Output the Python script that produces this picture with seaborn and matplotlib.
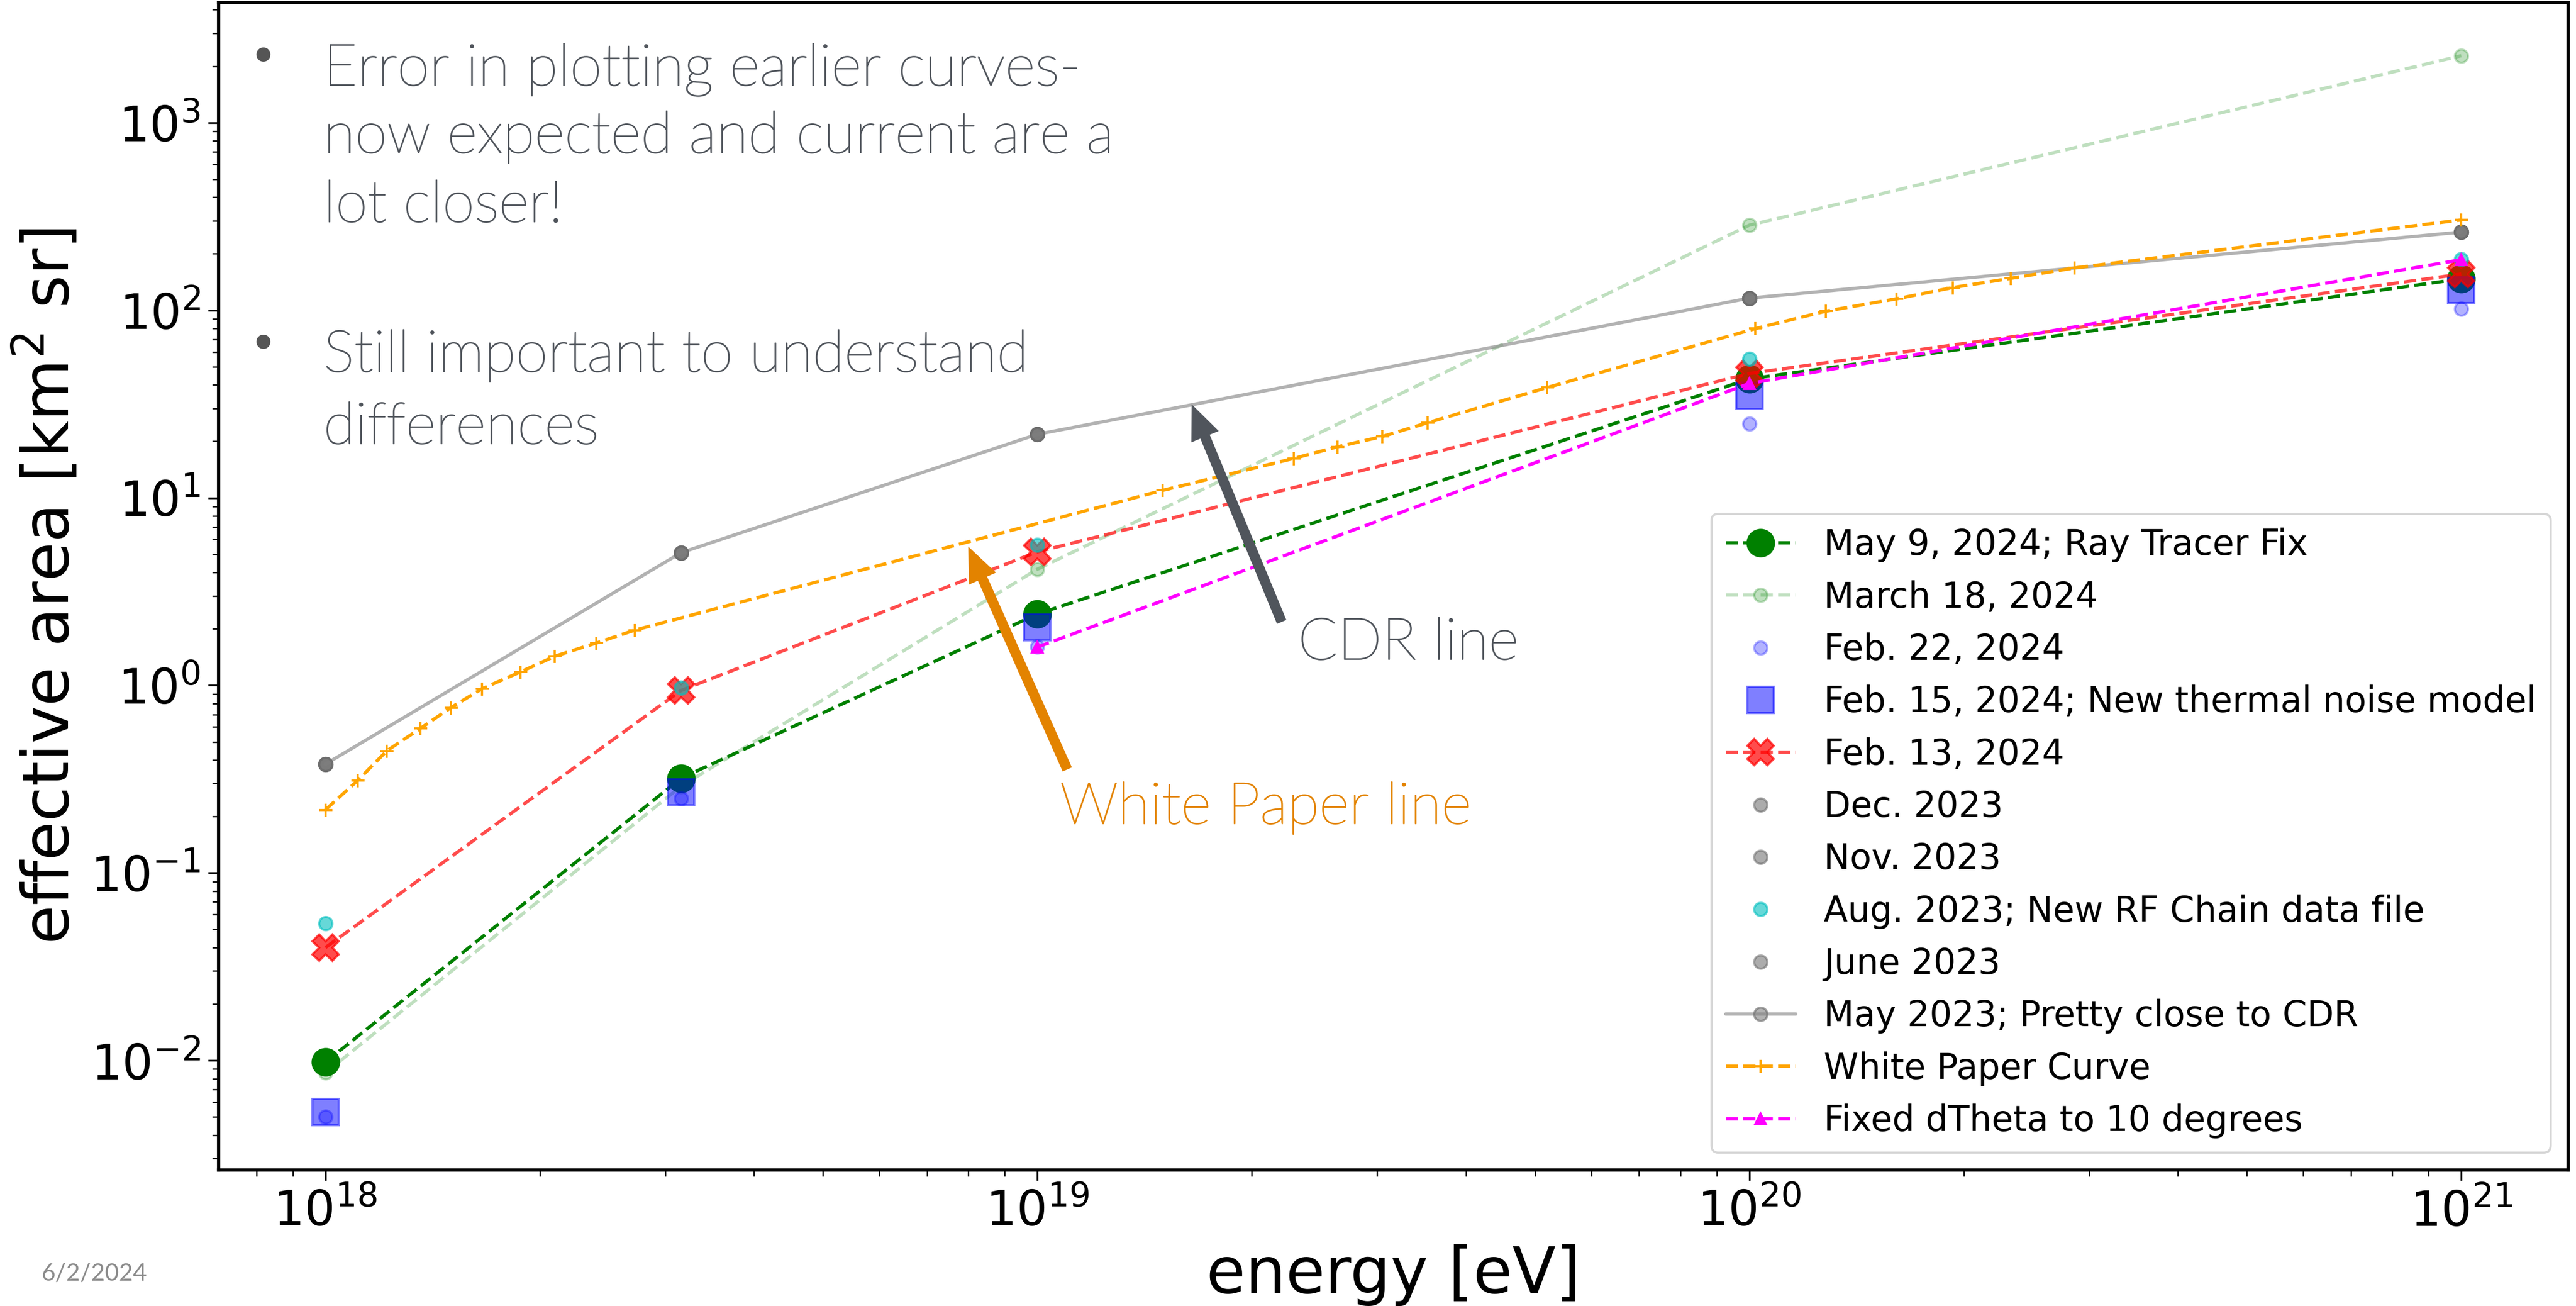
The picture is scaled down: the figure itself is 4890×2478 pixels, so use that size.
import matplotlib
matplotlib.use("Agg")
import matplotlib.pyplot as plt
import matplotlib.patheffects as pe
import seaborn as sns
import pandas as pd

# energies of the simulation points [eV]
energy = [1e18, 3.16e18, 1e19, 1e20, 1e21]

may9_2024 = [0.0098, 0.32, 2.4, 43, 147]
mar18_2024 = [0.0086, 0.29, 4.16, 284, 2275]
feb22_2024 = [0.0050, 0.25, 1.61, 24.8, 102]
feb15_2024 = [0.0053, 0.27, 2.04, 35, 128]
feb13_2024 = [0.040, 0.94, 5.15, 46, 156]
dec_2023 = [0.38, 5.1, 21.8, 116, 261]
nov_2023 = [0.38, 5.1, 21.8, 116, 261]
aug_2023 = [0.054, 0.97, 5.6, 55, 187]
june_2023 = [0.38, 5.1, 21.8, 116, 261]
may_2023 = [0.38, 5.1, 21.8, 116, 261]

wp_energy = [1.0e18, 1.11e18, 1.22e18, 1.36e18, 1.5e18, 1.66e18, 1.88e18, 2.1e18,
             2.4e18, 2.72e18, 1.5e19, 2.29e19, 2.64e19, 3.05e19, 3.53e19, 5.2e19,
             1.02e20, 1.28e20, 1.61e20, 1.93e20, 2.33e20, 2.86e20, 1e21]
wp_area = [0.217, 0.311, 0.448, 0.59, 0.76, 0.96, 1.18, 1.43,
           1.68, 1.97, 10.96, 16.2, 18.7, 21.2, 25.1, 38.7,
           79.8, 98.8, 115, 132, 148, 168, 303]

dtheta_energy = [1e19, 1e20, 1e21]
dtheta_area = [1.6, 40.7, 186]

W, H = 4890, 2478

sns.set_style("ticks", {"axes.edgecolor": "black", "xtick.color": "black",
                        "ytick.color": "black", "text.color": "black",
                        "axes.labelcolor": "black"})
plt.rcParams["font.family"] = ["DejaVu Sans"]

fig = plt.figure(figsize=(W / 300, H / 300), dpi=300)
ax = fig.add_axes([415 / W, (H - 2220) / H, (4875 - 415) / W, (2220 - 5) / H])


def series(x, y, label, **kw):
    df = pd.DataFrame({"energy": x, "area": y})
    sns.lineplot(data=df, x="energy", y="area", ax=ax, label=label,
                 estimator=None, sort=False, **kw)


series(energy, may9_2024, "May 9, 2024; Ray Tracer Fix", color="green",
       linestyle="--", marker="o", markersize=12, mec="green", mew=1)
series(energy, mar18_2024, "March 18, 2024", color="green", alpha=0.25,
       linestyle="--", marker="o", markersize=6, mec="green", mew=1)
series(energy, feb22_2024, "Feb. 22, 2024", color="blue", alpha=0.3,
       linestyle="none", marker="o", markersize=6, mec="blue", mew=1)
series(energy, feb15_2024, "Feb. 15, 2024; New thermal noise model", color="blue",
       alpha=0.5, linestyle="none", marker="s", markersize=12, mec="blue", mew=1)
series(energy, feb13_2024, "Feb. 13, 2024", color="red", alpha=0.7,
       linestyle="--", marker="X", markersize=12, mec="red", mew=1)
series(energy, dec_2023, "Dec. 2023", color="dimgray", alpha=0.55,
       linestyle="none", marker="o", markersize=6, mec="dimgray", mew=1)
series(energy, nov_2023, "Nov. 2023", color="dimgray", alpha=0.55,
       linestyle="none", marker="o", markersize=6, mec="dimgray", mew=1)
series(energy, aug_2023, "Aug. 2023; New RF Chain data file", color="c", alpha=0.6,
       linestyle="none", marker="o", markersize=6, mec="c", mew=1)
series(energy, june_2023, "June 2023", color="dimgray", alpha=0.55,
       linestyle="none", marker="o", markersize=6, mec="dimgray", mew=1)
series(energy, may_2023, "May 2023; Pretty close to CDR", color="gray", alpha=0.6,
       linestyle="-", marker="o", markersize=6, mec="dimgray", mew=1)
series(wp_energy, wp_area, "White Paper Curve", color="orange",
       linestyle="--", marker="+", markersize=6, mec="orange", mew=1)
series(dtheta_energy, dtheta_area, "Fixed dTheta to 10 degrees", color="magenta",
       linestyle="--", marker="^", markersize=5, mec="magenta", mew=1)

ax.set_xscale("log")
ax.set_yscale("log")
ax.set_xticks([1e18, 1e19, 1e20, 1e21])
ax.set_yticks([1e-2, 1e-1, 1e0, 1e1, 1e2, 1e3])
ax.set_xlabel("energy [eV]", fontsize=29)
ax.set_ylabel("effective area [km$^2$ sr]", fontsize=29)
ax.tick_params(axis="both", which="major", labelsize=22, length=4.8, width=0.8)
ax.tick_params(axis="both", which="minor", length=2.9, width=0.6)
for s in ax.spines.values():
    s.set_linewidth(1.5)
ax.legend(loc="lower right", fontsize=16)

# slide annotations
slide_font = ["Lato", "DejaVu Sans"]
grey = "#50555c"
orange = "#e38300"


def ftext(x, y, s, col, size=26.5, **kw):
    t = fig.text(x / W, 1 - y / H, s, color=col, fontsize=size, family=slide_font,
                 fontweight="light", **kw)
    t.set_path_effects([pe.withStroke(linewidth=0.45, foreground=col)])


fig.text(499 / W, 1 - 112 / H, "\u2022", fontsize=22, color="#555555",
         va="center", ha="center")
fig.text(499 / W, 1 - 657 / H, "\u2022", fontsize=22, color="#555555",
         va="center", ha="center")
for y, line in [(162, "Error in plotting earlier curves-"),
                (290, "now expected and current are a"),
                (421, "lot closer!"),
                (705, "Still important to understand"),
                (842, "differences")]:
    ftext(614, y, line, grey, va="baseline")

ftext(2464, 1251, "CDR line", grey, va="baseline")
ftext(2012, 1563, "White Paper line", orange, va="baseline")
fig.text(78 / W, 1 - 2417 / H, "6/2/2024", fontsize=11, color="#8c8c8c",
         family=slide_font, va="center")

for tip, tail, col in [((2262, 767), (2433, 1180), grey),
                       ((1838, 1037), (2026, 1460), orange)]:
    ax.annotate("", xy=(tip[0] / W, 1 - tip[1] / H), xycoords="figure fraction",
                xytext=(tail[0] / W, 1 - tail[1] / H), textcoords="figure fraction",
                arrowprops=dict(facecolor=col, edgecolor="none", width=4.6,
                                headwidth=13.5, headlength=16, shrink=0))

fig.savefig("out.png", dpi=300)
